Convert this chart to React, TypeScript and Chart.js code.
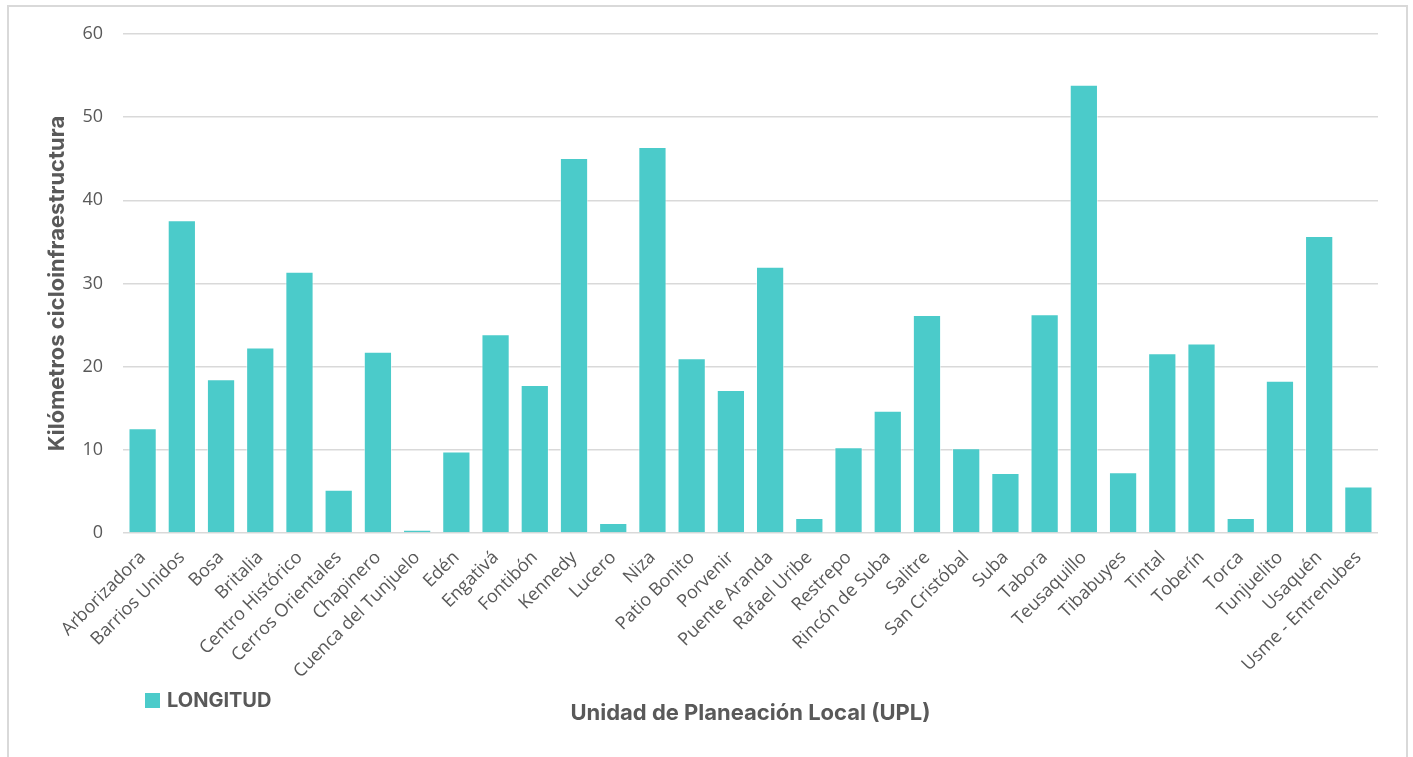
import { useEffect, useRef } from "react";
import { Chart, registerables } from "chart.js";

Chart.register(...registerables);

// Unidades de Planeación Local (UPL)
const categories: string[] = [
  "Arborizadora",
  "Barrios Unidos",
  "Bosa",
  "Britalia",
  "Centro Histórico",
  "Cerros Orientales",
  "Chapinero",
  "Cuenca del Tunjuelo",
  "Edén",
  "Engativá",
  "Fontibón",
  "Kennedy",
  "Lucero",
  "Niza",
  "Patio Bonito",
  "Porvenir",
  "Puente Aranda",
  "Rafael Uribe",
  "Restrepo",
  "Rincón de Suba",
  "Salitre",
  "San Cristóbal",
  "Suba",
  "Tabora",
  "Teusaquillo",
  "Tibabuyes",
  "Tintal",
  "Toberín",
  "Torca",
  "Tunjuelito",
  "Usaquén",
  "Usme - Entrenubes",
];

// Kilómetros de cicloinfraestructura por UPL
const longitudKm: number[] = [
  12.6, 37.6, 18.5, 22.3, 31.4, 5.2, 21.8, 0.4, 9.8, 23.9, 17.8, 45.1, 1.2,
  46.4, 21.0, 17.2, 32.0, 1.8, 10.3, 14.7, 26.2, 10.2, 7.2, 26.3, 53.9, 7.3,
  21.6, 22.8, 1.8, 18.3, 35.7, 5.6,
];

const yTicks = { min: 0, max: 60, step: 10 };

const seriesLabel = "LONGITUD";
const xTitle = "Unidad de Planeación Local (UPL)";
const yTitle = "Kilómetros cicloinfraestructura";

const BAR_COLOR = "#4BCBCA";
const TEXT_COLOR = "#595959";
const GRID_COLOR = "#D9D9D9";
const TITLE_FONT = "Inter, 'Noto Sans', sans-serif";
const TICK_FONT = "'Open Sans', 'Noto Sans', sans-serif";

// Legend drawn under the rotated labels, left of the axis title
const legendPlugin = {
  id: "bottomLeftLegend",
  afterDraw(chart: Chart) {
    const { ctx, chartArea } = chart;
    const ds = chart.data.datasets[0];
    const x = chartArea.left + 22;
    const y = chartArea.bottom + 160;
    ctx.save();
    ctx.fillStyle = (ds.backgroundColor as string) || BAR_COLOR;
    ctx.fillRect(x, y, 15, 15);
    ctx.fillStyle = TEXT_COLOR;
    ctx.font = `bold 20px ${TITLE_FONT}`;
    ctx.textBaseline = "middle";
    ctx.textAlign = "left";
    ctx.fillText(String(ds.label), x + 22, y + 7.5);
    ctx.restore();
  },
};

export default function App() {
  const canvasRef = useRef<HTMLCanvasElement | null>(null);

  useEffect(() => {
    if (!canvasRef.current) return;
    const chart = new Chart(canvasRef.current, {
      type: "bar",
      data: {
        labels: categories,
        datasets: [
          {
            label: seriesLabel,
            data: longitudKm,
            backgroundColor: BAR_COLOR,
            borderColor: "rgba(255,255,255,0.55)",
            borderWidth: 1,
            categoryPercentage: 1,
            barPercentage: 0.72,
          },
        ],
      },
      options: {
        animation: false,
        responsive: false,
        maintainAspectRatio: false,
        layout: {
          padding: { top: 27, right: 28, bottom: 0, left: 0 },
        },
        plugins: {
          legend: { display: false },
          tooltip: { enabled: false },
        },
        scales: {
          x: {
            grid: { display: false, drawTicks: false },
            border: { display: false },
            ticks: {
              autoSkip: false,
              minRotation: 45,
              maxRotation: 45,
              padding: 14,
              color: TEXT_COLOR,
              font: { family: TICK_FONT, size: 18 },
            },
            title: {
              display: true,
              text: xTitle,
              color: TEXT_COLOR,
              font: { family: TITLE_FONT, size: 22, weight: "bold" },
              padding: { top: 0, bottom: 30 },
            },
            afterFit(scale: any) {
              scale.height = 224;
            },
          },
          y: {
            min: yTicks.min,
            max: yTicks.max,
            grid: { color: GRID_COLOR, lineWidth: 1.5, drawTicks: false },
            border: { display: false },
            ticks: {
              stepSize: yTicks.step,
              padding: 20,
              color: TEXT_COLOR,
              font: { family: TICK_FONT, size: 18 },
            },
            title: {
              display: true,
              text: yTitle,
              color: TEXT_COLOR,
              font: { family: TITLE_FONT, size: 22, weight: "bold" },
              padding: { top: 35, bottom: 0 },
            },
            afterFit(scale: any) {
              scale.width = 114;
              scale.paddingTop = 11;
              scale.paddingBottom = 11;
            },
          },
        },
      },
      plugins: [legendPlugin],
    });
    return () => chart.destroy();
  }, []);

  return (
    <div
      style={{
        position: "absolute",
        left: 7,
        top: 5,
        width: 1397,
        height: 750,
        borderTop: `2px solid ${GRID_COLOR}`,
        borderLeft: `2px solid ${GRID_COLOR}`,
        borderRight: `2px solid ${GRID_COLOR}`,
        background: "#fff",
      }}
    >
      <canvas
        ref={canvasRef}
        width={1397}
        height={750}
        style={{ display: "block", width: 1397, height: 750 }}
      />
    </div>
  );
}
